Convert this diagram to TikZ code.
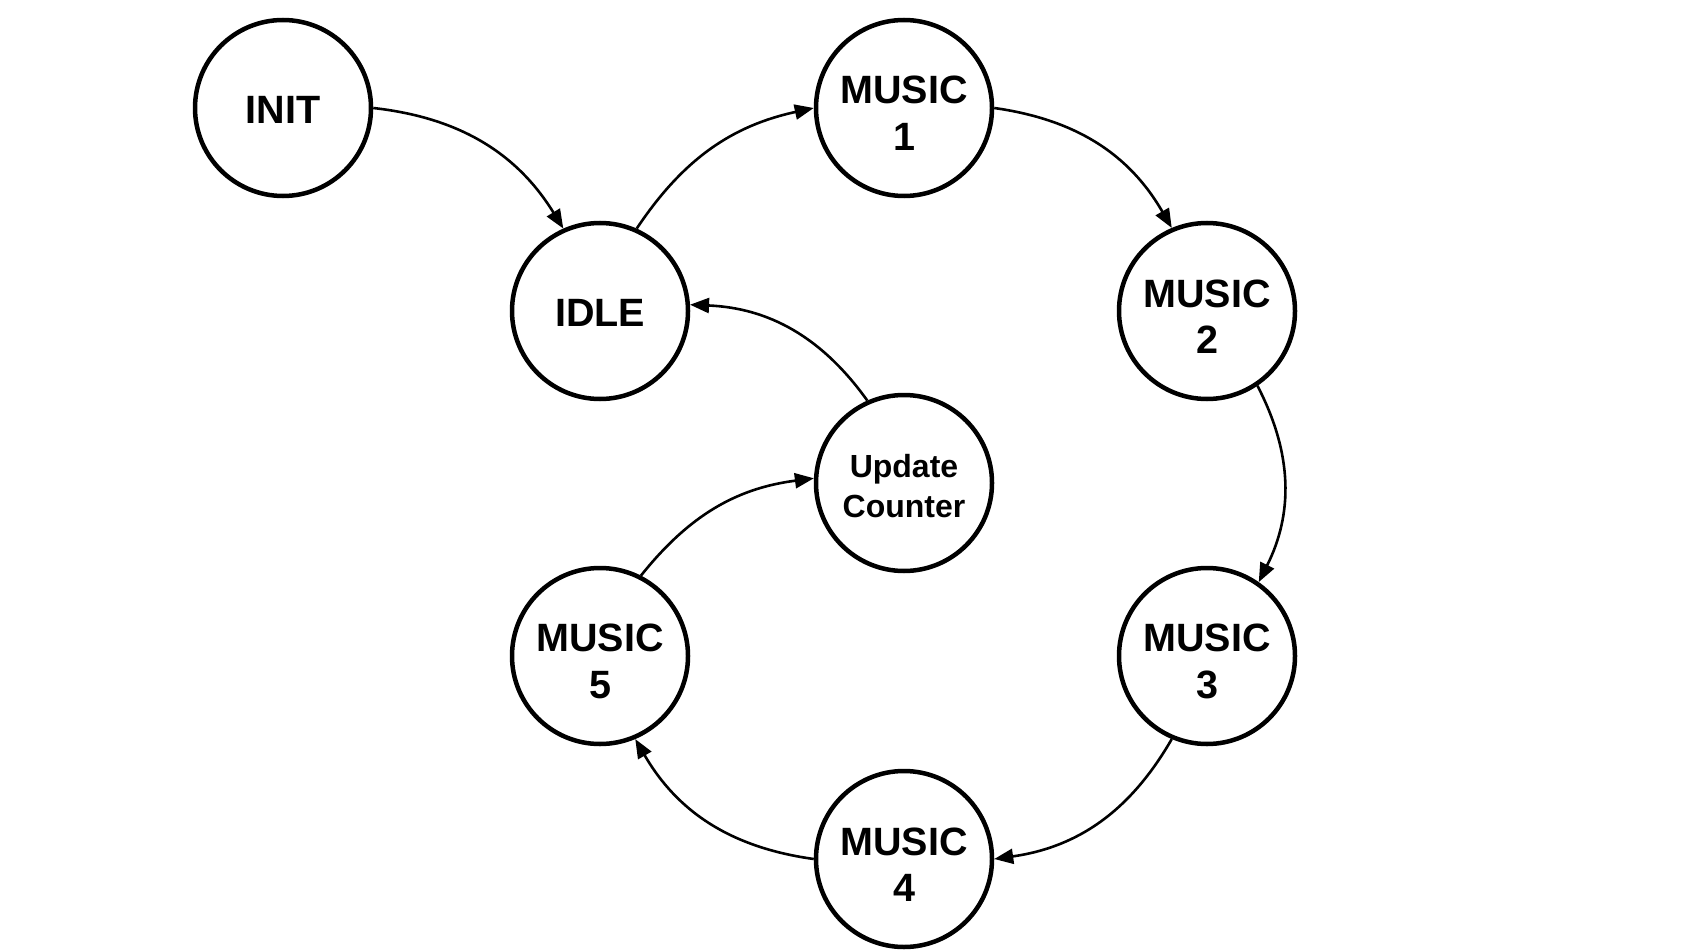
\documentclass[tikz,border=0pt]{standalone}
\usepackage{fontspec}
\setmainfont{Liberation Sans}
\usetikzlibrary{arrows.meta}
\newcommand{\mystrut}[1]{\rule{0pt}{#1}}
\begin{document}
\begin{tikzpicture}[x=1pt,y=1pt,
  state/.style={circle, draw, line width=4.5pt, minimum size=176pt, inner sep=0pt, align=center,
    font=\fontsize{39.5}{46.5}\selectfont\bfseries},
  smalltext/.style={font=\fontsize{32}{40}\selectfont\bfseries},
  edge/.style={line width=2.6pt, -{Triangle[length=19pt,width=15pt]}}]
\useasboundingbox (0,0) rectangle (1697,-952);
\node[state] (init) at (283,-108) {\mystrut{30.5pt}INIT};
\node[state] (idle) at (600,-311) {\mystrut{30.5pt}IDLE};
\node[state] (m1) at (904,-108) {\mystrut{38.5pt}MUSIC\\1};
\node[state] (m2) at (1207,-311) {\mystrut{38.5pt}MUSIC\\2};
\node[state,smalltext] (upd) at (904,-483) {\mystrut{30pt}Update\\Counter};
\node[state] (m3) at (1207,-656) {\mystrut{38.5pt}MUSIC\\3};
\node[state] (m5) at (600,-656) {\mystrut{38.5pt}MUSIC\\5};
\node[state] (m4) at (904,-859) {\mystrut{38.5pt}MUSIC\\4};

\draw[edge] (init.0) to[bend left=26] (idle.114);
\draw[edge] (idle.66) to[bend left=22] (m1.180);
\draw[edge] (m1.0) to[bend left=26] (m2.113);
\draw[edge] (m2.-56) to[bend left=27] (m3.55);
\draw[edge] (m3.-113) to[bend left=26] (m4.0);
\draw[edge] (m4.180) to[bend left=26] (m5.-67);
\draw[edge] (m5.63) to[bend left=22] (upd.177);
\draw[edge] (upd.114) to[bend right=26] (idle.4);
\end{tikzpicture}
\end{document}
